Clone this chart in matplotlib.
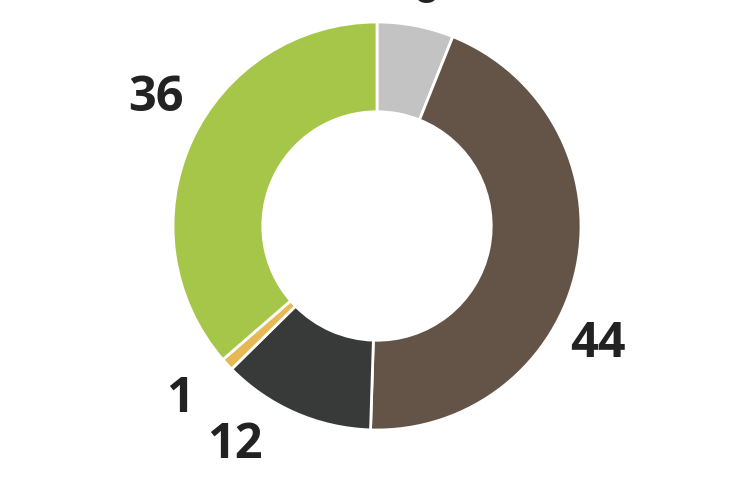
import matplotlib.pyplot as plt

# valores del anillo (sentido horario desde arriba)
valores = [6, 44, 12, 1, 36]
etiquetas = ["6", "44", "12", "1", "36"]
colores = ["#c3c3c3", "#635447", "#373a39", "#e6b954", "#a6c64a"]

# posiciones de las etiquetas (centro x, línea base y; unidades del radio)
pos_etiquetas = [(0.235, 1.093), (1.083, -0.642), (-0.699, -1.137), (-0.968, -0.912), (-1.086, 0.564)]

fig = plt.figure(figsize=(7.5, 4.8), dpi=100)
ax = fig.add_axes([0, 0, 1, 1])

ax.pie(valores, colors=colores, startangle=90, counterclock=False, radius=1.0,
       wedgeprops=dict(width=0.44, edgecolor="white", linewidth=2))

for txt, (x, y) in zip(etiquetas, pos_etiquetas):
    ax.text(x, y, txt, ha="center", va="baseline", fontsize=35, fontweight="bold",
            family="Open Sans", color="#222222")

ax.set_xlim(-377 / 204, (750 - 377) / 204)
ax.set_ylim(-254 / 204, 226 / 204)
ax.set_aspect("equal")
ax.axis("off")

plt.savefig("out.png", dpi=100)
